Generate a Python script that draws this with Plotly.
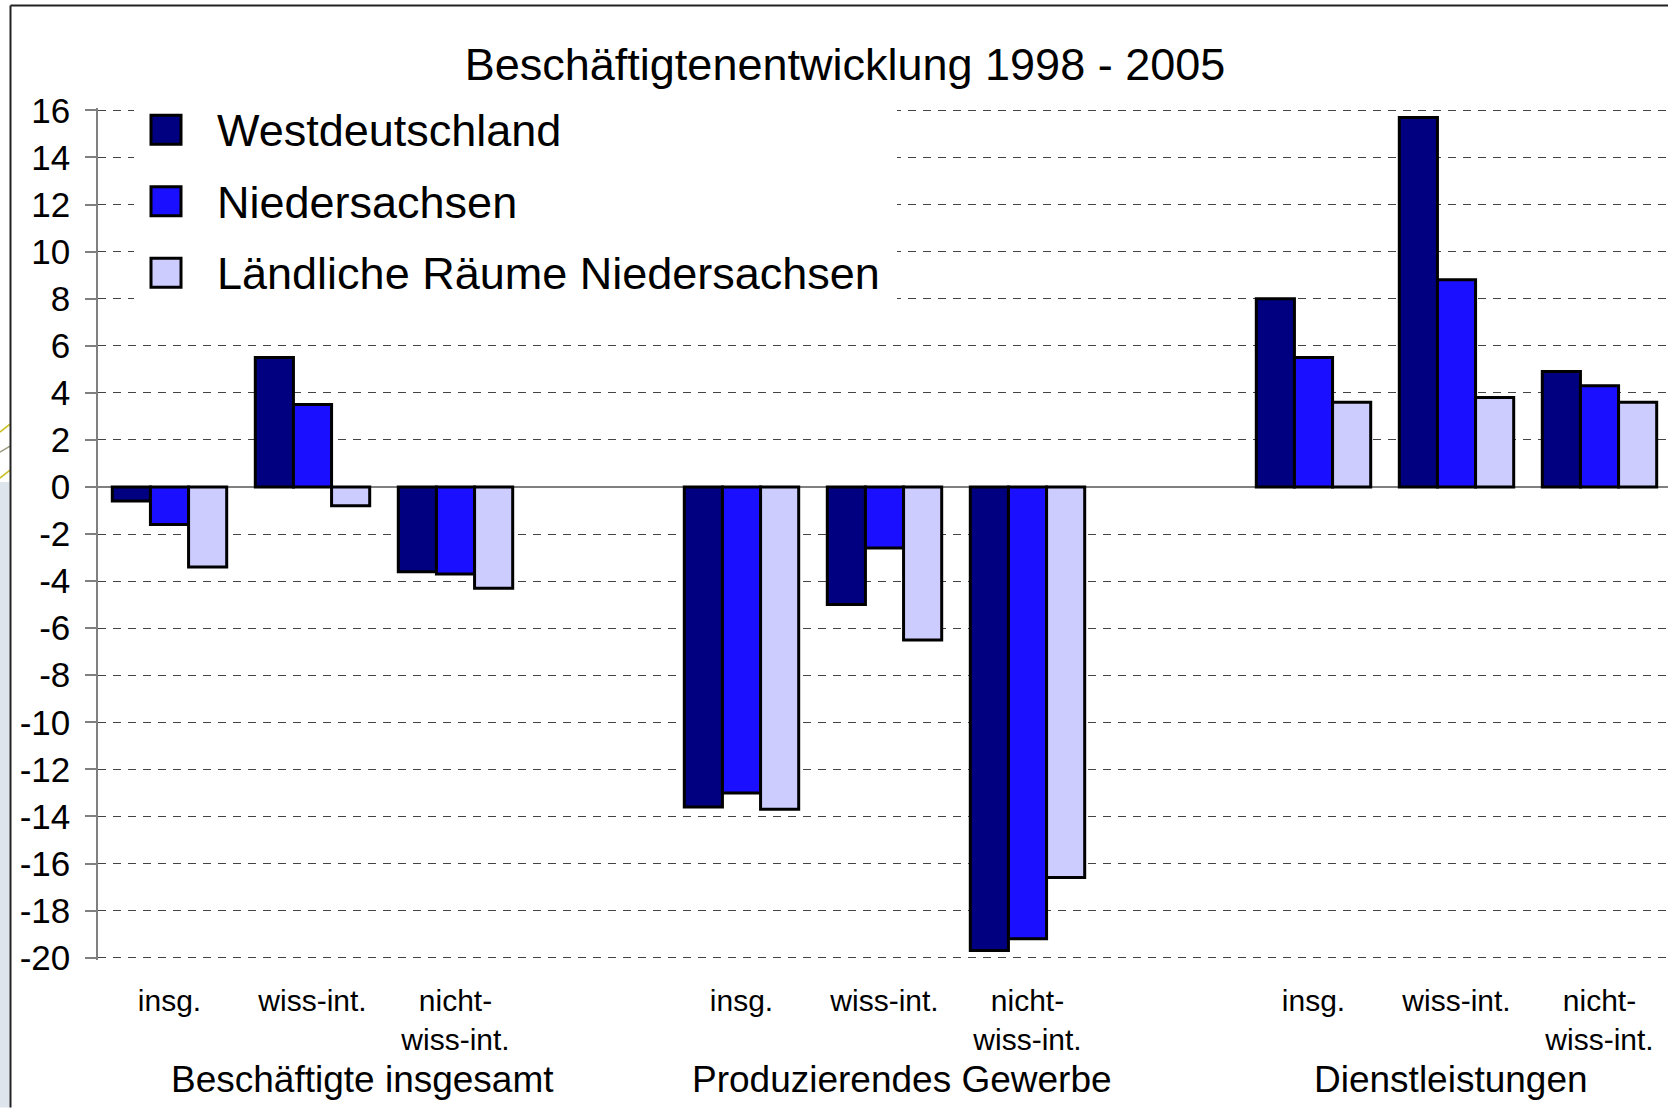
import plotly.graph_objects as go

# ---------------- data ----------------
groups = ["Beschäftigte insgesamt", "Produzierendes Gewerbe", "Dienstleistungen"]
categories = ["insg.", "wiss-int.", "nicht-<br>wiss-int."]
series_names = ["Westdeutschland", "Niedersachsen", "Ländliche Räume Niedersachsen"]
west = [-0.6, 5.5, -3.6, -13.6, -5.0, -19.7, 8.0, 15.7, 4.9]
nieders = [-1.6, 3.5, -3.7, -13.0, -2.6, -19.2, 5.5, 8.8, 4.3]
laendl = [-3.4, -0.8, -4.3, -13.7, -6.5, -16.6, 3.6, 3.8, 3.6]
y_ticks = list(range(-20, 17, 2))
y_ticktext = [str(v) for v in y_ticks]
title_text = "Beschäftigtenentwicklung 1998 - 2005"

colors = ["#000080", "#1A10FF", "#CCCCFF"]
FONT = "Liberation Sans, Arial, sans-serif"

# positions: 3 categories per group, one empty slot between groups
xpos = [g * 4 + c for g in range(len(groups)) for c in range(len(categories))]
ticktext = categories * len(groups)

W, H = 1668, 1108
PAD = 0.1                      # small range padding so edge gridlines are drawn
PX_PER_UNIT = 23.53
L, R = 98, 0
T = 110 - PAD * PX_PER_UNIT
B = 150 - PAD * PX_PER_UNIT
PW, PH = W - L - R, H - T - B
CAT_PX = 143.0
x_range = [-0.5, -0.5 + PW / CAT_PX]
y_range = [-20 - PAD, 16 + PAD]


def px_x(px):
    return (px - L) / PW


def px_y(py):
    return (H - B - py) / PH


fig = go.Figure()
for name, vals, col in zip(series_names, [west, nieders, laendl], colors):
    fig.add_trace(go.Bar(
        x=xpos, y=vals, name=name,
        marker=dict(color=col, line=dict(color="black", width=3)),
        showlegend=False,
    ))

shapes = []
annotations = []

# frame of the slide
shapes.append(dict(type="rect", xref="paper", yref="paper",
                   x0=px_x(0), x1=px_x(9.5), y0=px_y(H), y1=px_y(482),
                   line=dict(width=0), fillcolor="#DDE4EC", layer="below"))
for (ya, yb, c) in [(432, 424, "#C8C020"), (452, 446, "#9A9A80"), (478, 470, "#C8C020")]:
    shapes.append(dict(type="line", xref="paper", yref="paper",
                       x0=px_x(0), x1=px_x(10), y0=px_y(ya), y1=px_y(yb),
                       line=dict(color=c, width=1.5), layer="below"))
shapes.append(dict(type="line", xref="paper", yref="paper",
                   x0=px_x(10.5), x1=px_x(10.5), y0=px_y(5), y1=px_y(H),
                   line=dict(color="#222222", width=2)))
shapes.append(dict(type="line", xref="paper", yref="paper",
                   x0=px_x(10.5), x1=px_x(W), y0=px_y(5), y1=px_y(5),
                   line=dict(color="#222222", width=2)))

# legend box (white, hides gridlines)
shapes.append(dict(type="rect", xref="paper", yref="paper",
                   x0=px_x(134), x1=px_x(897), y0=px_y(318), y1=px_y(94),
                   line=dict(width=0), fillcolor="white", layer="above"))
row_y = [129.5, 201.0, 272.5]
for name, col, ry in zip(series_names, colors, row_y):
    shapes.append(dict(type="rect", xref="paper", yref="paper",
                       x0=px_x(151), x1=px_x(181), y0=px_y(ry + 14.5), y1=px_y(ry - 14.5),
                       line=dict(color="black", width=3), fillcolor=col, layer="above"))
    annotations.append(dict(text=name, xref="paper", yref="paper",
                            x=px_x(215), y=px_y(ry + 1), xanchor="left", yanchor="middle",
                            showarrow=False, font=dict(family=FONT, size=45, color="black")))

# group labels
for gname, gx in zip(groups, [1.35, 5.12, 8.96]):
    annotations.append(dict(text=gname, xref="x", yref="paper",
                            x=gx, y=px_y(1080), xanchor="center", yanchor="middle",
                            showarrow=False, font=dict(family=FONT, size=37, color="black")))

fig.update_layout(
    width=W, height=H,
    margin=dict(l=L, r=R, t=T, b=B, pad=0),
    paper_bgcolor="white", plot_bgcolor="white",
    barmode="group", bargap=0.2, bargroupgap=0,
    title=dict(text=title_text, x=845 / W, xref="container", xanchor="center",
               y=1 - 64 / H, yref="container", yanchor="middle",
               font=dict(family=FONT, size=45, color="black")),
    font=dict(family=FONT, color="black"),
    shapes=shapes,
    annotations=annotations,
    xaxis=dict(range=x_range, tickmode="array", tickvals=xpos, ticktext=ticktext,
               ticks="", showgrid=False, zeroline=False, showline=False,
               tickfont=dict(family=FONT, size=30, color="black"),
               ticklabelstandoff=20, fixedrange=True),
    xaxis2=dict(range=x_range, overlaying="x", anchor="free",
                position=(0 - y_range[0]) / (y_range[1] - y_range[0]),
                side="bottom", tickmode="array",
                tickvals=[i + 0.5 for i in range(10)],
                ticks="outside", ticklen=9, tickwidth=1.5, tickcolor="#808080",
                showticklabels=False, showgrid=False, zeroline=False, showline=False),
    yaxis=dict(range=y_range, tickmode="array", tickvals=y_ticks, ticktext=y_ticktext,
               ticks="outside", ticklen=11, tickwidth=1.5, tickcolor="#808080",
               showline=True, linecolor="#808080", linewidth=1.5,
               showgrid=True, gridcolor="#444444", gridwidth=1.3, griddash="8px,7px",
               zeroline=True, zerolinecolor="#808080", zerolinewidth=2,
               tickfont=dict(family=FONT, size=35, color="black"),
               ticklabelstandoff=8),
)

fig.write_html("out.html", config={"displayModeBar": False},
               post_script="document.body.style.margin='0';document.body.style.overflow='hidden';")
